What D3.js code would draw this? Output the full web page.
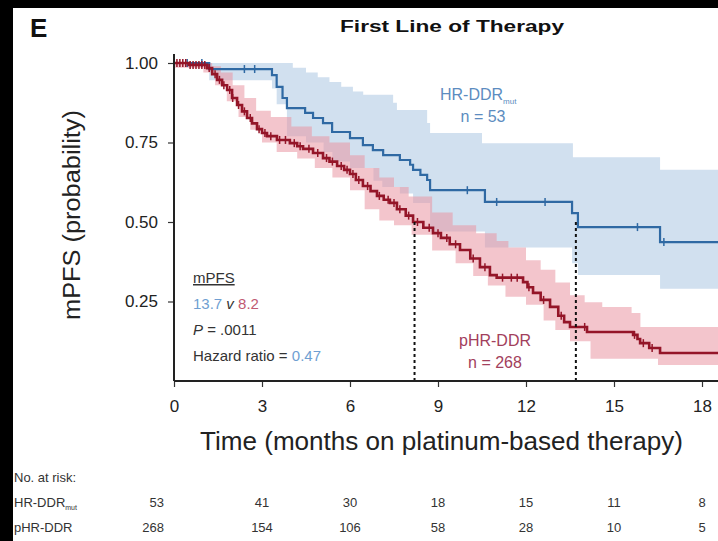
<!DOCTYPE html>
<html>
<head>
<meta charset="utf-8">
<script src="https://cdn.jsdelivr.net/npm/d3@7"></script>
<style>
  body { margin: 0; background: #fff; }
  svg { display: block; font-family: "Liberation Sans", Arial, sans-serif; }
</style>
</head>
<body>
<script>
// Variables
const w = 718;
const h = 541;
const tEnd = 18.6;

// HR-DDRmut (n = 53): [months, survival]
const blueSteps = [
  [0, 1.0], [1.2, 0.981], [3.34, 0.962], [3.5, 0.925], [3.7, 0.89], [3.85, 0.858],
  [4.47, 0.843], [4.74, 0.827], [5.08, 0.811], [5.39, 0.783], [6.0, 0.764],
  [6.44, 0.742], [6.78, 0.726], [7.13, 0.71], [7.7, 0.695], [8.05, 0.68],
  [8.15, 0.664], [8.4, 0.648], [8.63, 0.632], [8.73, 0.60], [10.6, 0.563],
  [13.57, 0.528], [13.77, 0.484], [16.57, 0.437]
];
const blueHi = [
  [0, 1.0], [4.05, 0.985], [4.5, 0.97], [4.9, 0.955], [5.3, 0.94], [5.7, 0.925],
  [6.1, 0.91], [6.45, 0.90], [7.47, 0.875], [7.6, 0.852], [8.63, 0.811],
  [8.73, 0.78], [10.5, 0.748], [13.6, 0.704], [16.57, 0.664]
];
const blueLo = [
  [0, 1.0], [1.2, 0.946], [3.34, 0.92], [3.5, 0.87], [3.85, 0.77], [4.5, 0.75],
  [5.1, 0.72], [5.4, 0.69], [6.0, 0.67], [6.8, 0.63], [7.1, 0.61], [7.7, 0.59],
  [8.15, 0.56], [8.73, 0.47], [10.6, 0.42], [13.57, 0.37], [13.77, 0.333], [16.57, 0.29]
];
const blueCensor = [0.45, 0.95, 2.4, 2.75, 10.0, 11.0, 12.65, 15.8, 16.7];

// pHR-DDR (n = 268): [months, survival]
const redSteps = [
  [0, 1.0], [0.5, 0.994], [1.13, 0.984], [1.3, 0.965], [1.47, 0.947], [1.64, 0.93],
  [1.81, 0.915], [1.98, 0.89], [2.15, 0.868], [2.32, 0.848], [2.49, 0.827],
  [2.66, 0.81], [2.83, 0.792], [3.0, 0.78], [3.17, 0.77], [3.51, 0.758],
  [3.95, 0.748], [4.2, 0.738], [4.4, 0.73], [4.74, 0.717], [5.08, 0.701],
  [5.3, 0.69], [5.56, 0.676], [5.8, 0.664], [6.0, 0.651], [6.2, 0.632],
  [6.44, 0.613], [6.7, 0.597], [6.92, 0.582], [7.15, 0.57], [7.36, 0.56],
  [7.6, 0.54], [7.9, 0.52], [8.15, 0.50], [8.5, 0.482], [8.83, 0.465],
  [9.1, 0.45], [9.4, 0.43], [9.75, 0.412], [10.1, 0.385], [10.43, 0.358],
  [10.77, 0.333], [11.0, 0.325], [11.9, 0.311], [12.05, 0.295], [12.24, 0.277],
  [12.5, 0.255], [12.82, 0.233], [13.1, 0.205], [13.3, 0.185], [13.5, 0.17],
  [14.08, 0.154], [15.65, 0.145], [15.8, 0.132], [15.89, 0.119], [16.2, 0.104],
  [16.57, 0.088]
];
const redHi = [
  [0, 1.0], [1.3, 0.99], [1.6, 0.97], [2.0, 0.93], [2.4, 0.89], [2.8, 0.85],
  [3.3, 0.83], [4.0, 0.80], [4.7, 0.77], [5.3, 0.75], [6.0, 0.71], [6.5, 0.67],
  [7.0, 0.64], [7.5, 0.61], [8.0, 0.58], [8.8, 0.53], [9.5, 0.49], [10.3, 0.465],
  [11.0, 0.44], [11.4, 0.42], [12.0, 0.38], [12.5, 0.35], [13.0, 0.31],
  [13.5, 0.27], [14.0, 0.248], [14.6, 0.233], [15.6, 0.214], [15.9, 0.17]
];
const redLo = [
  [0, 0.985], [1.0, 0.97], [1.4, 0.93], [1.8, 0.88], [2.2, 0.83], [2.6, 0.79],
  [3.0, 0.75], [3.5, 0.72], [4.2, 0.70], [4.8, 0.67], [5.4, 0.64], [6.0, 0.60],
  [6.5, 0.54], [7.0, 0.505], [7.5, 0.49], [8.1, 0.46], [8.8, 0.41], [9.6, 0.37],
  [10.2, 0.33], [10.7, 0.30], [11.3, 0.265], [12.0, 0.24], [12.6, 0.19],
  [13.0, 0.16], [13.5, 0.125], [14.2, 0.07], [16.5, 0.05]
];
const redCensor = [
  0.1, 0.2, 0.3, 0.4, 0.55, 0.65, 0.75, 0.85, 0.95, 1.05, 1.2, 1.4, 1.55, 1.7,
  1.9, 2.0, 2.2, 2.4, 2.6, 2.9, 3.1, 3.3, 3.6, 3.8, 4.1, 4.3, 4.6, 4.9, 5.2,
  5.4, 5.7, 5.9, 6.1, 6.3, 6.6, 7.0, 7.3, 7.5, 7.7, 8.0, 8.3, 8.7, 9.0, 9.3,
  9.6, 10.2, 10.6, 11.2, 11.5, 11.7, 12.1, 12.6, 13.2, 14.0, 15.7, 16.0, 16.3
];

const xTicks = [0, 3, 6, 9, 12, 15, 18];
const yTicks = [0.25, 0.5, 0.75, 1.0];
const medians = [8.2, 13.7];
const riskTimes = [0, 3, 6, 9, 12, 15, 18];
const riskBlue = [53, 41, 30, 18, 15, 11, 8];
const riskRed = [268, 154, 106, 58, 28, 10, 5];

const blue = "#2f69a3";
const red = "#941528";

// Escalas
const x = d3.scaleLinear().domain([0, 18]).range([174, 702]);
const y = d3.scaleLinear().domain([0, 1]).range([381, 63]);

const svg = d3.select("body")
  .append("svg")
  .attr("width", w)
  .attr("height", h);

svg.append("rect").attr("width", w).attr("height", h).attr("fill", "#fff");

// step helpers
const stepVerts = (pts) => {
  const out = [];
  pts.forEach((p, i) => {
    const tNext = i < pts.length - 1 ? pts[i + 1][0] : tEnd;
    out.push([p[0], p[1]], [tNext, p[1]]);
  });
  return out;
};
const valueAt = (pts, t) => {
  let v = pts[0][1];
  pts.forEach((p) => { if (p[0] <= t) v = p[1]; });
  return v;
};
const line = d3.line().x((d) => x(d[0])).y((d) => y(d[1]));

svg.append("clipPath").attr("id", "plot")
  .append("rect").attr("x", 174).attr("y", 40).attr("width", w - 174).attr("height", 341);

const plot = svg.append("g").attr("clip-path", "url(#plot)");

// Bandas de confianza
const band = (hi, lo, fill, op) => {
  const verts = stepVerts(hi).concat(stepVerts(lo).reverse());
  plot.append("path")
    .attr("d", line(verts) + "Z")
    .attr("fill", fill)
    .attr("fill-opacity", op);
};
band(blueHi, blueLo, "#b3cce5", 0.6);
band(redHi, redLo, "#ea95a2", 0.55);

// Medianas
medians.forEach((m) => {
  svg.append("line")
    .attr("x1", x(m)).attr("x2", x(m))
    .attr("y1", y(0.5)).attr("y2", y(0))
    .attr("stroke", "#111")
    .attr("stroke-width", 2)
    .attr("stroke-dasharray", "3,3");
});

// Curvas
const curve = (pts, cens, col, sw) => {
  plot.append("path")
    .attr("d", line(stepVerts(pts)))
    .attr("fill", "none")
    .attr("stroke", col)
    .attr("stroke-width", sw);
  plot.selectAll(null)
    .data(cens)
    .enter()
    .append("line")
    .attr("x1", (d) => x(d)).attr("x2", (d) => x(d))
    .attr("y1", (d) => y(valueAt(pts, d)) - 4)
    .attr("y2", (d) => y(valueAt(pts, d)) + 4)
    .attr("stroke", col)
    .attr("stroke-width", 1.5);
};
curve(blueSteps, blueCensor, blue, 2.2);
curve(redSteps, redCensor, red, 2.6);

// Ejes
const xAxis = svg.append("g")
  .attr("transform", "translate(0," + y(0) + ")")
  .call(d3.axisBottom(x).tickValues(xTicks).tickSize(6).tickPadding(13));
xAxis.select(".domain").remove();
xAxis.selectAll("text").attr("font-size", "17px").attr("fill", "#222").attr("font-family", "Liberation Sans, Arial");
xAxis.selectAll(".tick line").attr("stroke", "#333").attr("stroke-width", 1.2);

const yAxis = svg.append("g")
  .attr("transform", "translate(" + x(0) + ",0)")
  .call(d3.axisLeft(y).tickValues(yTicks).tickFormat(d3.format(".2f")).tickSize(6).tickPadding(10));
yAxis.select(".domain").remove();
yAxis.selectAll("text").attr("font-size", "17px").attr("fill", "#222").attr("font-family", "Liberation Sans, Arial");
yAxis.selectAll(".tick line").attr("stroke", "#333").attr("stroke-width", 1.2);

svg.append("line").attr("x1", x(0)).attr("x2", w).attr("y1", y(0)).attr("y2", y(0))
  .attr("stroke", "#222").attr("stroke-width", 2);
svg.append("line").attr("x1", x(0)).attr("x2", x(0)).attr("y1", 54).attr("y2", y(0))
  .attr("stroke", "#222").attr("stroke-width", 2);

// Títulos
svg.append("text")
  .attr("x", 30).attr("y", 37)
  .attr("font-size", "26px").attr("font-weight", "bold").attr("fill", "#111")
  .text("E");

svg.append("text")
  .attr("x", 340).attr("y", 32)
  .attr("font-size", "16px").attr("font-weight", "bold").attr("fill", "#111")
  .attr("textLength", 224).attr("lengthAdjust", "spacingAndGlyphs")
  .text("First Line of Therapy");

svg.append("text")
  .attr("x", 200).attr("y", 450)
  .attr("font-size", "25px").attr("fill", "#222")
  .attr("textLength", 483).attr("lengthAdjust", "spacingAndGlyphs")
  .text("Time (months on platinum-based therapy)");

svg.append("text")
  .attr("transform", "translate(80,320) rotate(-90)")
  .attr("font-size", "23px").attr("fill", "#222")
  .attr("textLength", 210).attr("lengthAdjust", "spacingAndGlyphs")
  .text("mPFS (probability)");

// Etiquetas de grupos
const blueLab = svg.append("text")
  .attr("x", 440).attr("y", 100)
  .attr("font-size", "16px").attr("fill", "#5c8cc0");
blueLab.append("tspan").text("HR-DDR");
blueLab.append("tspan").attr("dy", 4).attr("font-size", "8px").text("mut");
svg.append("text")
  .attr("x", 483).attr("y", 122)
  .attr("text-anchor", "middle")
  .attr("font-size", "16px").attr("fill", "#5c8cc0")
  .text("n = 53");

svg.append("text")
  .attr("x", 495).attr("y", 346)
  .attr("text-anchor", "middle")
  .attr("font-size", "16px").attr("fill", "#a2405c")
  .text("pHR-DDR");
svg.append("text")
  .attr("x", 495).attr("y", 368)
  .attr("text-anchor", "middle")
  .attr("font-size", "16px").attr("fill", "#a2405c")
  .text("n = 268");

// Caja de mPFS
svg.append("text")
  .attr("x", 193).attr("y", 283)
  .attr("font-size", "15px").attr("fill", "#333")
  .attr("text-decoration", "underline")
  .text("mPFS");
const med = svg.append("text")
  .attr("x", 193).attr("y", 309)
  .attr("font-size", "15px").attr("fill", "#333");
med.append("tspan").attr("fill", "#6f9fd2").text("13.7");
med.append("tspan").attr("font-style", "italic").text(" v ");
med.append("tspan").attr("fill", "#c05a72").text("8.2");
const pv = svg.append("text")
  .attr("x", 193).attr("y", 335)
  .attr("font-size", "15px").attr("fill", "#333");
pv.append("tspan").attr("font-style", "italic").text("P");
pv.append("tspan").text(" = .0011");
const hr = svg.append("text")
  .attr("x", 193).attr("y", 361)
  .attr("font-size", "15px").attr("fill", "#333");
hr.append("tspan").text("Hazard ratio = ");
hr.append("tspan").attr("fill", "#6f9fd2").text("0.47");

// Tabla de riesgo
svg.append("text")
  .attr("x", 14).attr("y", 482)
  .attr("font-size", "13px").attr("fill", "#333")
  .text("No. at risk:");

const rowBlue = svg.append("text")
  .attr("x", 14).attr("y", 507)
  .attr("font-size", "13px").attr("fill", "#333");
rowBlue.append("tspan").text("HR-DDR");
rowBlue.append("tspan").attr("dy", 3).attr("font-size", "7px").text("mut");

svg.append("text")
  .attr("x", 14).attr("y", 532)
  .attr("font-size", "13px").attr("fill", "#333")
  .text("pHR-DDR");

const riskRow = (vals, yy) => {
  svg.selectAll(null)
    .data(vals)
    .enter()
    .append("text")
    .attr("x", (d, i) => i === 0 ? x(riskTimes[i]) - 10 : x(riskTimes[i]))
    .attr("y", yy)
    .attr("text-anchor", (d, i) => i === 0 ? "end" : "middle")
    .attr("font-size", "13px")
    .attr("fill", "#333")
    .text((d) => d);
};
riskRow(riskBlue, 507);
riskRow(riskRed, 532);

// Borde negro
svg.append("rect").attr("x", 0).attr("y", 0).attr("width", w).attr("height", 8).attr("fill", "#000");
svg.append("rect").attr("x", 0).attr("y", 0).attr("width", 13).attr("height", h).attr("fill", "#000");
</script>
</body>
</html>
